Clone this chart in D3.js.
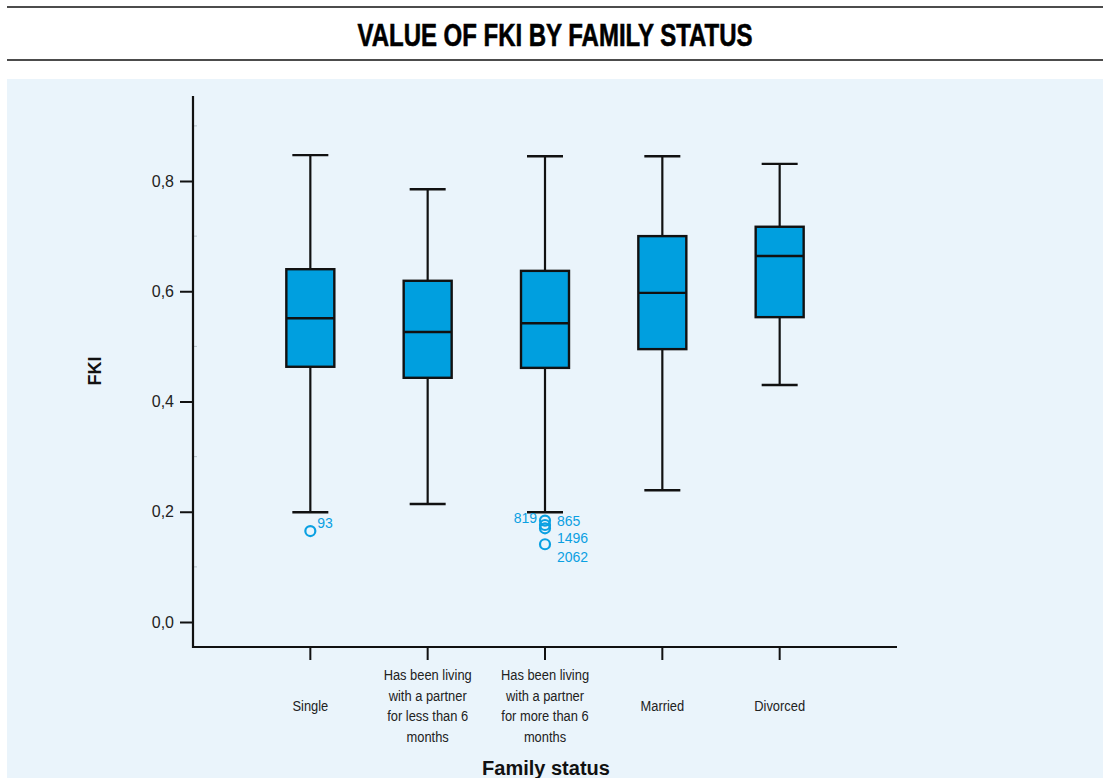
<!DOCTYPE html>
<html>
<head>
<meta charset="utf-8">
<script src="https://cdn.jsdelivr.net/npm/d3@7"></script>
<style>
  html, body { margin: 0; padding: 0; background: #ffffff; }
  svg { display: block; }
</style>
</head>
<body>
<svg id="chart" width="1103" height="778"></svg>
<script>
// Family status categories (multi-line labels split on "|")
const categories = [
  "Single",
  "Has been living|with a partner|for less than 6|months",
  "Has been living|with a partner|for more than 6|months",
  "Married",
  "Divorced"
];
// Five-number summaries of FKI per category
const whiskerLow  = [0.199, 0.214, 0.199, 0.239, 0.430];
const q1          = [0.463, 0.443, 0.461, 0.495, 0.553];
const median      = [0.551, 0.526, 0.542, 0.597, 0.664];
const q3          = [0.640, 0.619, 0.637, 0.700, 0.717];
const whiskerHigh = [0.847, 0.785, 0.845, 0.845, 0.831];
// Outlying cases: category index, value, case id
const outlierCat   = [0, 2, 2, 2, 2];
const outlierValue = [0.165, 0.184, 0.176, 0.170, 0.141];
const outlierId    = ["93", "819", "865", "1496", "2062"];
// Y axis ticks
const yTicks = [0.0, 0.2, 0.4, 0.6, 0.8];
const yMinorTicks = [0.1, 0.3, 0.5, 0.7, 0.9];

const svg = d3.select("#chart");
const boxFill = "#009fdf";
const outlierColor = "#0aa0e2";

// Header rules and title
svg.append("line").attr("x1", 7).attr("x2", 1103).attr("y1", 7).attr("y2", 7)
  .attr("stroke", "#111").attr("stroke-width", 1.6);
svg.append("line").attr("x1", 7).attr("x2", 1103).attr("y1", 60).attr("y2", 60)
  .attr("stroke", "#111").attr("stroke-width", 1.6);
svg.append("text")
  .attr("x", 555).attr("y", 46)
  .attr("text-anchor", "middle")
  .attr("font-family", "'Liberation Sans Narrow', 'Liberation Sans', sans-serif")
  .attr("font-weight", "bold")
  .attr("font-size", 31)
  .attr("fill", "#000")
  .attr("stroke", "#000").attr("stroke-width", 0.6)
  .attr("textLength", 395)
  .attr("lengthAdjust", "spacingAndGlyphs")
  .text("VALUE OF FKI BY FAMILY STATUS");

// Panel background
svg.append("rect").attr("x", 7).attr("y", 79).attr("width", 1096).attr("height", 699)
  .attr("fill", "#eaf4fb");

// Scales
const y = d3.scaleLinear().domain([0, 0.8]).range([622, 181]);
const x = d3.scalePoint().domain(d3.range(categories.length)).range([193, 897]).padding(1);

const axisTop = y(0.954);
const axisBottom = 647;
const narrow = "'Liberation Sans Narrow', 'Liberation Sans', sans-serif";

// Y axis
const yAxis = d3.axisLeft(y).tickValues(yTicks).tickSize(13).tickPadding(6)
  .tickFormat(d => d3.format(".1f")(d).replace(".", ","));
const gy = svg.append("g").attr("transform", "translate(193,0)").call(yAxis);
gy.select(".domain").remove();
gy.selectAll(".tick line").attr("stroke", "#111").attr("stroke-width", 2);
gy.selectAll(".tick text").attr("font-family", narrow).attr("font-size", 16)
  .attr("fill", "#222");
// minor ticks
svg.append("g").selectAll("line").data(yMinorTicks).join("line")
  .attr("x1", 193).attr("x2", 197).attr("y1", d => y(d)).attr("y2", d => y(d))
  .attr("stroke", "#b8c4cc").attr("stroke-width", 1);
svg.append("line").attr("x1", 193).attr("x2", 193).attr("y1", axisTop).attr("y2", axisBottom + 1)
  .attr("stroke", "#111").attr("stroke-width", 2.2);

// X axis
svg.append("line").attr("x1", 192).attr("x2", 897).attr("y1", axisBottom).attr("y2", axisBottom)
  .attr("stroke", "#111").attr("stroke-width", 2.2);
svg.append("g").selectAll("line").data(categories.map((d, i) => i)).join("line")
  .attr("x1", d => x(d)).attr("x2", d => x(d))
  .attr("y1", axisBottom).attr("y2", axisBottom + 13)
  .attr("stroke", "#111").attr("stroke-width", 2);

// Category labels, drawn slightly condensed
const catLabels = svg.append("g");
categories.forEach((c, i) => {
  const lines = c.split("|");
  const lh = 20.5;
  const startY = 711 - (lines.length - 1) * lh / 2;
  const t = catLabels.append("text")
    .attr("transform", `translate(${x(i)},0) scale(0.86,1)`)
    .attr("text-anchor", "middle")
    .attr("font-family", narrow).attr("font-size", 15).attr("fill", "#222");
  lines.forEach((ln, k) => {
    t.append("tspan").attr("x", 0).attr("y", startY + k * lh).text(ln);
  });
});

// Axis titles
svg.append("text").attr("x", 546).attr("y", 775).attr("text-anchor", "middle")
  .attr("font-family", "'Liberation Sans', Arial, sans-serif").attr("font-weight", "bold")
  .attr("font-size", 20).attr("fill", "#111").text("Family status");
svg.append("text").attr("transform", "translate(101,371) rotate(-90)")
  .attr("text-anchor", "middle")
  .attr("font-family", "'Liberation Sans', Arial, sans-serif").attr("font-weight", "bold")
  .attr("font-size", 18).attr("fill", "#111").text("FKI");

// Boxes
const boxW = 48, capW = 36;
const boxes = svg.append("g");
categories.forEach((c, i) => {
  const cx = x(i);
  const g = boxes.append("g");
  g.append("line").attr("x1", cx).attr("x2", cx).attr("y1", y(whiskerHigh[i])).attr("y2", y(q3[i]))
    .attr("stroke", "#111").attr("stroke-width", 2.2);
  g.append("line").attr("x1", cx).attr("x2", cx).attr("y1", y(q1[i])).attr("y2", y(whiskerLow[i]))
    .attr("stroke", "#111").attr("stroke-width", 2.2);
  g.append("line").attr("x1", cx - capW / 2).attr("x2", cx + capW / 2)
    .attr("y1", y(whiskerHigh[i])).attr("y2", y(whiskerHigh[i]))
    .attr("stroke", "#111").attr("stroke-width", 2.4);
  g.append("line").attr("x1", cx - capW / 2).attr("x2", cx + capW / 2)
    .attr("y1", y(whiskerLow[i])).attr("y2", y(whiskerLow[i]))
    .attr("stroke", "#111").attr("stroke-width", 2.4);
  g.append("rect").attr("x", cx - boxW / 2).attr("width", boxW)
    .attr("y", y(q3[i])).attr("height", y(q1[i]) - y(q3[i]))
    .attr("fill", boxFill).attr("stroke", "#111").attr("stroke-width", 2.4);
  g.append("line").attr("x1", cx - boxW / 2).attr("x2", cx + boxW / 2)
    .attr("y1", y(median[i])).attr("y2", y(median[i]))
    .attr("stroke", "#111").attr("stroke-width", 2.4);
});

// Outliers with case-id labels placed beside the circles
const labelOffset = {
  "93":   { dx: 7,  dy: -3, anchor: "start" },
  "819":  { dx: -8, dy: 2,  anchor: "end" },
  "865":  { dx: 12, dy: 1,  anchor: "start" },
  "1496": { dx: 12, dy: 15, anchor: "start" },
  "2062": { dx: 12, dy: 18, anchor: "start" }
};
const outs = svg.append("g");
outlierValue.forEach((v, k) => {
  const cx = x(outlierCat[k]);
  const cy = y(v);
  outs.append("circle").attr("cx", cx).attr("cy", cy).attr("r", 5)
    .attr("fill", "none").attr("stroke", outlierColor).attr("stroke-width", 2.2);
  const o = labelOffset[outlierId[k]];
  outs.append("text").attr("x", cx + o.dx).attr("y", cy + o.dy).attr("text-anchor", o.anchor)
    .attr("font-family", "'Liberation Sans', Arial, sans-serif").attr("font-size", 14)
    .attr("fill", outlierColor).text(outlierId[k]);
});
</script>
</body>
</html>
